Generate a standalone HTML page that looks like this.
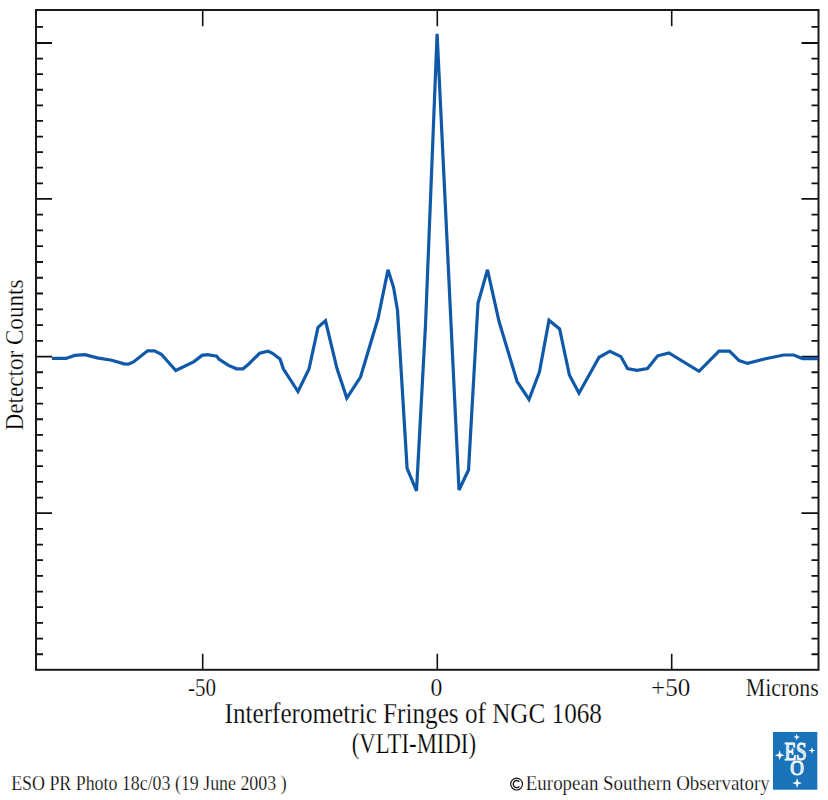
<!DOCTYPE html>
<html><head><meta charset="utf-8"><style>
html,body{margin:0;padding:0;background:#fff;}
body{width:828px;height:800px;overflow:hidden;}
svg{display:block;}
text{font-family:"Liberation Serif",serif;fill:#000;stroke:#fff;stroke-width:0.25px;}
</style></head><body>
<svg width="828" height="800" viewBox="0 0 828 800">
<rect x="0" y="0" width="828" height="800" fill="#fff"/>
<path d="M36 654.23h7M818.5 654.23h-7M36 638.56h7M818.5 638.56h-7M36 622.89h7M818.5 622.89h-7M36 607.22h7M818.5 607.22h-7M36 591.55h7M818.5 591.55h-7M36 575.88h7M818.5 575.88h-7M36 560.21h7M818.5 560.21h-7M36 544.54h7M818.5 544.54h-7M36 528.87h7M818.5 528.87h-7M36 513.20h16M818.5 513.20h-17M36 497.54h7M818.5 497.54h-7M36 481.88h7M818.5 481.88h-7M36 466.22h7M818.5 466.22h-7M36 450.56h7M818.5 450.56h-7M36 434.90h7M818.5 434.90h-7M36 419.24h7M818.5 419.24h-7M36 403.58h7M818.5 403.58h-7M36 387.92h7M818.5 387.92h-7M36 372.26h7M818.5 372.26h-7M36 356.60h16M818.5 356.60h-17M36 340.83h7M818.5 340.83h-7M36 325.06h7M818.5 325.06h-7M36 309.29h7M818.5 309.29h-7M36 293.52h7M818.5 293.52h-7M36 277.75h7M818.5 277.75h-7M36 261.98h7M818.5 261.98h-7M36 246.21h7M818.5 246.21h-7M36 230.44h7M818.5 230.44h-7M36 214.67h7M818.5 214.67h-7M36 198.90h16M818.5 198.90h-17M36 183.31h7M818.5 183.31h-7M36 167.72h7M818.5 167.72h-7M36 152.13h7M818.5 152.13h-7M36 136.54h7M818.5 136.54h-7M36 120.95h7M818.5 120.95h-7M36 105.36h7M818.5 105.36h-7M36 89.77h7M818.5 89.77h-7M36 74.18h7M818.5 74.18h-7M36 58.59h7M818.5 58.59h-7M36 43.00h16M818.5 43.00h-17M36 26.80h7M818.5 26.80h-7" stroke="#111" stroke-width="1.8" fill="none"/>
<path d="M202.7 10V26.3M202.7 669.8V653.8M437.3 10V26.3M437.3 669.8V653.8M671.7 10V26.3M671.7 669.8V653.8" stroke="#111" stroke-width="1.6" fill="none"/>
<rect x="36" y="10" width="782.5" height="659.8" stroke="#1a1a1a" stroke-width="2" fill="none"/>
<polyline points="51.9,358.4 66,358.4 74.8,355.4 84.9,354.6 97.2,357.9 111.7,360.2 124,363.8 128.4,364.2 133.5,361.9 147.6,350.8 154.4,350.8 161.3,354.3 175.8,370.5 194,361.6 202,355.4 207.7,354.6 216.7,356.1 218.8,359 228.5,365.4 236.5,368.8 243,368.8 248.8,364 259.6,353.3 268,351.3 272.5,353.3 280,359 283.3,368.8 298,391.5 309,369 318,327.4 325.5,320.8 337,368.5 346.8,398 360.5,377 378,318.5 388,269.8 393.6,287.6 397.5,310.3 407.1,468.3 416.5,490.8 425.5,325 437.1,33.8 459,490 468.5,470 478,303.2 487.5,269.8 499,321.3 517,381.3 529,399.5 539.4,372 549,320.3 559.6,329 569.4,375 579,393.2 599.1,357.3 610,351.2 620.9,356.6 627.5,368.6 636.8,370.3 647.5,368.5 657.7,355.8 668.9,352.9 699,371.3 719,351.2 729.5,351.2 739.1,360.6 747.5,363.4 764.4,359 783.6,355 793.7,355 802.5,358.6 818.1,358.6" fill="none" stroke="#1059a8" stroke-width="3.2" stroke-linejoin="miter" stroke-miterlimit="3"/>







<text x="188.00" y="696.20" font-size="25.5" textLength="28.00" lengthAdjust="spacingAndGlyphs">-50</text>
<text x="430.60" y="696.20" font-size="25.5" textLength="11.80" lengthAdjust="spacingAndGlyphs">0</text>
<text x="651.00" y="696.20" font-size="25.5" textLength="39.20" lengthAdjust="spacingAndGlyphs">+50</text>
<text x="745.80" y="696.30" font-size="25.5" textLength="73.00" lengthAdjust="spacingAndGlyphs">Microns</text>
<text x="224.50" y="722.60" font-size="29.6" textLength="377.40" lengthAdjust="spacingAndGlyphs">Interferometric Fringes of NGC 1068</text>
<text x="351.80" y="752.90" font-size="29.6" textLength="124.20" lengthAdjust="spacingAndGlyphs">(VLTI-MIDI)</text>
<text x="11.20" y="789.90" font-size="20.8" textLength="275.40" lengthAdjust="spacingAndGlyphs">ESO PR Photo 18c/03 (19 June 2003 )</text>
<text x="525.80" y="789.90" font-size="20.8" textLength="244.00" lengthAdjust="spacingAndGlyphs">European Southern Observatory</text>
<text transform="translate(23.20 430.40) rotate(-90)" x="0" y="0" font-size="26.0" textLength="150.80" lengthAdjust="spacingAndGlyphs">Detector Counts</text>
<circle cx="516.6" cy="784.1" r="5.9" fill="none" stroke="#161616" stroke-width="1.2"/><path d="M519.3 781.9A3.4 3.6 0 1 0 519.3 786.3" fill="none" stroke="#161616" stroke-width="1.3"/>


<g>
<rect x="773" y="732" width="44.3" height="57.7" fill="#1a72b9"/>
<polygon points="796.70,733.70 797.52,736.28 800.10,737.10 797.52,737.92 796.70,740.50 795.88,737.92 793.30,737.10 795.88,736.28" fill="#fff"/><polygon points="779.70,750.30 780.88,754.02 784.60,755.20 780.88,756.38 779.70,760.10 778.52,756.38 774.80,755.20 778.52,754.02" fill="#fff"/><polygon points="811.90,746.90 812.77,749.63 815.50,750.50 812.77,751.37 811.90,754.10 811.03,751.37 808.30,750.50 811.03,749.63" fill="#fff"/><polygon points="797.10,778.10 798.30,781.90 802.10,783.10 798.30,784.30 797.10,788.10 795.90,784.30 792.10,783.10 795.90,781.90" fill="#fff"/><text x="784.5" y="759.7" font-size="24.8" textLength="22.2" lengthAdjust="spacingAndGlyphs" style="fill:#b9d3ec;stroke:#fff;stroke-width:1.1">ES</text><text x="790.3" y="774.9" font-size="21.5" textLength="13.6" lengthAdjust="spacingAndGlyphs" style="fill:#b9d3ec;stroke:#fff;stroke-width:1.1">O</text>
</g>
</svg>
</body></html>
